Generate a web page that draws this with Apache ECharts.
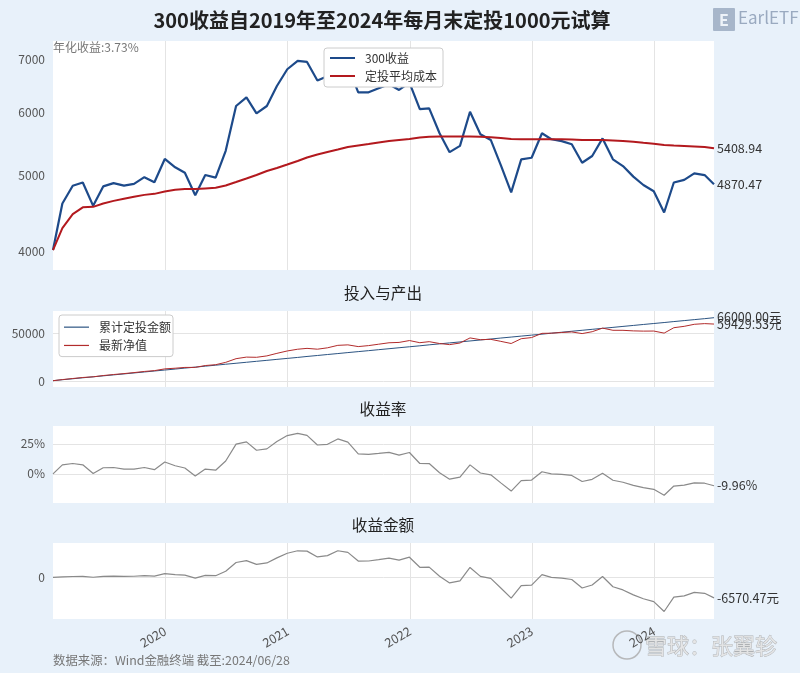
<!DOCTYPE html>
<html><head><meta charset="utf-8">
<script src="https://cdn.jsdelivr.net/npm/echarts@6/dist/echarts.min.js"></script>
<style>html,body{margin:0;padding:0;background:#e8f1fa}#c{width:800px;height:673px}</style>
</head><body><div id="c"></div>
<script>
const dates = [
'2019-01-31','2019-02-28','2019-03-31','2019-04-30','2019-05-31','2019-06-30','2019-07-31','2019-08-31','2019-09-30','2019-10-31','2019-11-30','2019-12-31',
'2020-01-31','2020-02-29','2020-03-31','2020-04-30','2020-05-31','2020-06-30','2020-07-31','2020-08-31','2020-09-30','2020-10-31','2020-11-30','2020-12-31',
'2021-01-31','2021-02-28','2021-03-31','2021-04-30','2021-05-31','2021-06-30','2021-07-31','2021-08-31','2021-09-30','2021-10-31','2021-11-30','2021-12-31',
'2022-01-31','2022-02-28','2022-03-31','2022-04-30','2022-05-31','2022-06-30','2022-07-31','2022-08-31','2022-09-30','2022-10-31','2022-11-30','2022-12-31',
'2023-01-31','2023-02-28','2023-03-31','2023-04-30','2023-05-31','2023-06-30','2023-07-31','2023-08-31','2023-09-30','2023-10-31','2023-11-30','2023-12-31',
'2024-01-31','2024-02-29','2024-03-31','2024-04-30','2024-05-31','2024-06-28'];

// 300收益 (index level)
const price = [4020,4604,4850,4896,4573,4840,4886,4852,4876,4972,4900,5243,
5117,5036,4718,5003,4966,5370,6119,6276,5990,6119,6486,6811,
6978,6958,6592,6673,6964,6872,6368,6368,6443,6520,6412,6549,
6065,6077,5651,5348,5447,6018,5634,5542,5151,4756,5238,5262,
5651,5553,5523,5474,5186,5289,5567,5238,5136,4980,4860,4773,
4485,4896,4934,5028,5003,4870.47];

// 定投平均成本
const avgCost = [4020,4285,4464,4553,4560,4605,4640,4668,4695,4722,4736,4770,
4792,4802,4802,4812,4820,4852,4902,4953,5004,5063,5108,5160,
5213,5266,5312,5352,5390,5430,5454,5478,5502,5526,5542,5558,
5582,5596,5599,5599,5599,5599,5596,5587,5574,5558,5555,5553,
5555,5553,5553,5549,5542,5542,5542,5534,5526,5513,5498,5483,
5462,5454,5446,5438,5430,5408.94];

// 累计定投金额
const invested = [1000,2000,3000,4000,5000,6000,7000,8000,9000,10000,11000,12000,
13000,14000,15000,16000,17000,18000,19000,20000,21000,22000,23000,24000,
25000,26000,27000,28000,29000,30000,31000,32000,33000,34000,35000,36000,
37000,38000,39000,40000,41000,42000,43000,44000,45000,46000,47000,48000,
49000,50000,51000,52000,53000,54000,55000,56000,57000,58000,59000,60000,
61000,62000,63000,64000,65000,66000];

// 最新净值
const netValue = [1000,2149,3259,4301,5014,6306,7371,8315,9347,10529,11381,13190,
13882,14682,14738,16635,17515,19922,23717,25342,25138,26589,29205,31679,
33465,34354,33506,34911,37469,37967,36195,37199,38644,40116,40494,42419,
40202,41266,39362,38207,39887,45143,43292,43646,41585,39362,44318,45485,
49847,50000,50725,51297,49595,51535,55248,52998,52977,52392,52154,52231,
50089,55657,57077,59174,59889,59429.53];

// 收益率 (%)
const returnRate = [0,7.44,8.65,7.53,0.29,5.10,5.30,3.94,3.86,5.29,3.46,9.92,
6.78,4.87,-1.75,3.97,3.03,10.68,24.83,26.71,19.70,20.86,26.98,32.00,
33.86,32.13,24.10,24.68,29.20,26.56,16.76,16.25,17.10,17.99,15.70,17.83,
8.65,8.60,0.93,-4.48,-2.71,7.48,0.68,-0.81,-7.59,-14.43,-5.71,-5.24,
1.73,0,-0.54,-1.35,-6.42,-4.57,0.45,-5.35,-7.06,-9.67,-11.60,-12.95,
-17.89,-10.23,-9.40,-7.54,-7.86,-9.96];

// 收益金额
const profit = [0,149,259,301,14,306,371,315,347,529,381,1190,
882,682,-262,635,515,1922,4717,5342,4138,4589,6205,7679,
8465,8354,6506,6911,8469,7967,5195,5199,5644,6116,5494,6419,
3202,3266,362,-1793,-1113,3143,292,-354,-3415,-6638,-2682,-2515,
847,0,-275,-703,-3405,-2465,248,-3002,-4023,-5608,-6846,-7769,
-10911,-6343,-5923,-4826,-5111,-6570.47];

const yearTicks = ['2020-01-01','2021-01-01','2022-01-01','2023-01-01','2024-01-01'];
const priceTicks = [4000,5000,6000,7000];
const amountTicks = [0,50000];
const rateTicks = [0,25];
const profitTicks = [0];

const FONT = "'Noto Sans CJK SC', 'Noto Sans', sans-serif";
const toTime = s => { const p = s.split('-'); return Date.UTC(+p[0], +p[1]-1, +p[2]); };
const times = dates.map(toTime);
const yearVals = yearTicks.map(toTime);
const toPairs = arr => times.map((t, i) => [t, arr[i]]);

const grids = [
  {left:53, right:86, top:41, height:229},
  {left:53, right:86, top:311, height:76},
  {left:53, right:86, top:426, height:77},
  {left:53, right:86, top:543, height:76}
].map(g => Object.assign({show:true, backgroundColor:'#ffffff', borderWidth:0, containLabel:false}, g));

const xAxes = [0,1,2,3].map(i => ({
  type:'value', gridIndex:i, min:times[0], max:times[times.length-1],
  axisLine:{show:false},
  axisTick:{show:false, customValues:yearVals},
  axisLabel:{show:i===3, customValues:yearVals, rotate:30, margin:11, color:'#555', fontSize:12.5, fontFamily:FONT,
    formatter: v => String(new Date(v).getUTCFullYear())},
  splitLine:{show:true, lineStyle:{color:'#e4e4e4', width:1}}
}));

const yLab = {color:'#555', fontSize:12, fontFamily:FONT, margin:8, formatter: v => String(v)};
const yAxes = [
  {type:'log', logBase:10, gridIndex:0, min:3793, max:7396,
   axisLine:{show:false}, axisTick:{show:false, customValues:priceTicks},
   axisLabel:Object.assign({customValues:priceTicks}, yLab), splitLine:{show:false}},
  {type:'value', gridIndex:1, min:-5500, max:72900,
   axisLine:{show:false}, axisTick:{show:false, customValues:amountTicks},
   axisLabel:Object.assign({customValues:amountTicks}, yLab), splitLine:{show:true, lineStyle:{color:'#e4e4e4'}}},
  {type:'value', gridIndex:2, min:-24.4, max:40,
   axisLine:{show:false}, axisTick:{show:false, customValues:rateTicks},
   axisLabel:Object.assign({}, yLab, {customValues:rateTicks, formatter: v => v + '%'}), splitLine:{show:true, lineStyle:{color:'#e4e4e4'}}},
  {type:'value', gridIndex:3, min:-13300, max:10950,
   axisLine:{show:false}, axisTick:{show:false, customValues:profitTicks},
   axisLabel:Object.assign({customValues:profitTicks}, yLab), splitLine:{show:true, lineStyle:{color:'#e4e4e4'}}}
];

function endLab(fmt){ return {show:true, formatter: p => fmt(p.value[1]), color:'#333', fontSize:12.5, fontFamily:FONT, distance:3}; }

const series = [
  {name:'300收益', type:'line', xAxisIndex:0, yAxisIndex:0, data:toPairs(price), symbol:'none',
   color:'#1d4a8a', lineStyle:{color:'#1d4a8a', width:2.2}, endLabel:endLab(v => v.toFixed(2))},
  {name:'定投平均成本', type:'line', xAxisIndex:0, yAxisIndex:0, data:toPairs(avgCost), symbol:'none',
   color:'#b3191e', lineStyle:{color:'#b3191e', width:2}, endLabel:endLab(v => v.toFixed(2))},
  {name:'累计定投金额', type:'line', xAxisIndex:1, yAxisIndex:1, data:toPairs(invested), symbol:'none',
   color:'#2c5482', lineStyle:{color:'#2c5482', width:1}, endLabel:endLab(v => v.toFixed(2) + '元')},
  {name:'最新净值', type:'line', xAxisIndex:1, yAxisIndex:1, data:toPairs(netValue), symbol:'none',
   color:'#b22c2c', lineStyle:{color:'#b22c2c', width:1}, endLabel:endLab(v => v.toFixed(2) + '元')},
  {name:'收益率', type:'line', xAxisIndex:2, yAxisIndex:2, data:toPairs(returnRate), symbol:'none',
   color:'#8a8a8a', lineStyle:{color:'#8a8a8a', width:1.2}, endLabel:endLab(v => v.toFixed(2) + '%')},
  {name:'收益金额', type:'line', xAxisIndex:3, yAxisIndex:3, data:toPairs(profit), symbol:'none',
   color:'#8a8a8a', lineStyle:{color:'#8a8a8a', width:1.2}, endLabel:endLab(v => v.toFixed(2) + '元')}
];

const legendBase = {orient:'vertical', icon:'rect', itemWidth:25, backgroundColor:'#ffffff', borderColor:'#cccccc', borderWidth:1, borderRadius:3,
  itemGap:0, selectedMode:false};
const legends = [
  Object.assign({}, legendBase, {data:['300收益','定投平均成本'], left:324, top:48, itemHeight:2, padding:[1,6,2,6],
    textStyle:{fontSize:12, color:'#333', fontFamily:FONT, padding:[0,0,0,5], lineHeight:18}}),
  Object.assign({}, legendBase, {data:['累计定投金额','最新净值'], left:59, top:315, itemHeight:1.2, padding:[3,2,2,5],
    textStyle:{fontSize:12, color:'#333', fontFamily:FONT, padding:[0,0,0,5], lineHeight:18.3}})
];

const txt = (x, y, text, size, fill, extra) => ({type:'text', x:x, y:y, silent:true,
  style:Object.assign({text:text, fontSize:size, fill:fill, fontFamily:FONT, textVerticalAlign:'middle'}, extra || {})});

const graphics = [
  txt(382, 20, '300收益自2019年至2024年每月末定投1000元试算', 20, '#222', {textAlign:'center', fontWeight:'bold'}),
  txt(383, 293, '投入与产出', 15.6, '#222', {textAlign:'center'}),
  txt(383, 409, '收益率', 15.6, '#222', {textAlign:'center'}),
  txt(383, 525, '收益金额', 15.6, '#222', {textAlign:'center'}),
  txt(53, 47, '年化收益:3.73%', 12, '#777', {textAlign:'left'}),
  txt(53, 660, '数据来源：Wind金融终端 截至:2024/06/28', 12.4, '#777', {textAlign:'left'}),
  {type:'rect', shape:{x:713, y:8, width:22, height:23, r:1}, style:{fill:'#a7b6ca'}, silent:true},
  txt(724, 20, 'E', 16, '#eef3f9', {textAlign:'center', fontWeight:'bold'}),
  txt(738, 18, 'EarlETF', 17, '#9aaac0', {textAlign:'left'}),
  {type:'circle', shape:{cx:627, cy:645, r:14}, style:{fill:'none', stroke:'rgba(170,170,170,0.8)', lineWidth:1.5}, silent:true},
  txt(645, 646, '雪球：张翼轸', 22, 'rgba(228,228,228,0.9)', {textAlign:'left', stroke:'rgba(150,150,150,0.7)', lineWidth:0.8})
];

const chart = echarts.init(document.getElementById('c'), null, {renderer:'canvas'});
chart.setOption({
  backgroundColor:'#e8f1fa', animation:false,
  grid:grids, xAxis:xAxes, yAxis:yAxes, series:series, legend:legends, graphic:graphics
});
</script></body></html>
